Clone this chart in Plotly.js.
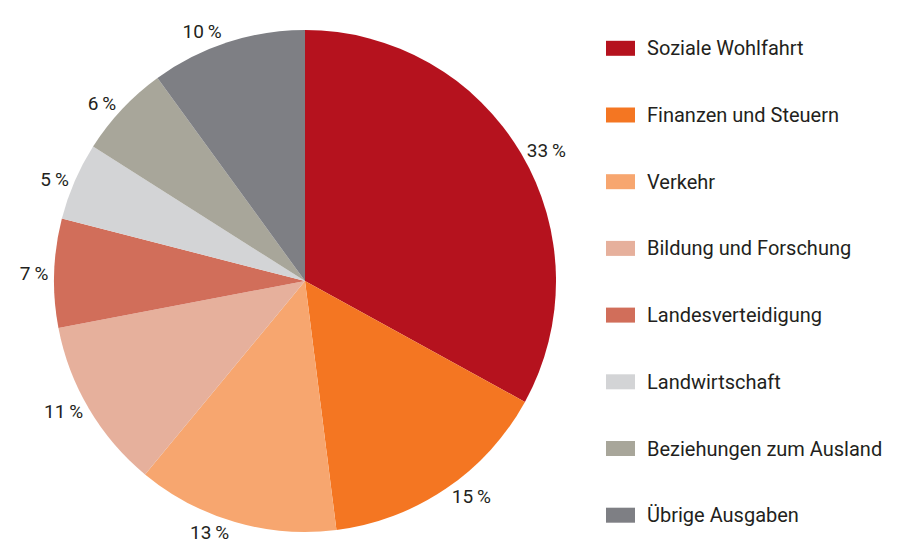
<!DOCTYPE html>
<html>
<head>
<meta charset="utf-8">
<script src="https://cdn.plot.ly/plotly-3.0.1.min.js"></script>
<style>html,body{margin:0;padding:0;background:#fff;}#chart{width:904px;height:555px;}</style>
</head>
<body>
<div id="chart"></div>
<script>
const categories = ["Soziale Wohlfahrt", "Finanzen und Steuern", "Verkehr", "Bildung und Forschung", "Landesverteidigung", "Landwirtschaft", "Beziehungen zum Ausland", "Übrige Ausgaben"];
const shares = [33, 15, 13, 11, 7, 5, 6, 10];
const colors = ["#B5121E", "#F47622", "#F7A66F", "#E6B09C", "#D16E5A", "#D3D4D6", "#A8A69A", "#7E7F84"];

const W = 904, H = 555;
const fontFam = "Roboto, 'DejaVu Sans', sans-serif";
const textColor = "#231F20";

const trace = {
  type: "pie",
  labels: categories,
  values: shares,
  sort: false,
  direction: "clockwise",
  rotation: 0,
  marker: {colors: colors, line: {width: 0}},
  texttemplate: "%{value}\u2009%",
  textposition: "outside",
  textfont: {family: fontFam, size: 19, color: textColor},
  outsidetextfont: {family: fontFam, size: 19, color: textColor},
  hoverinfo: "label+value",
  showlegend: false,
  domain: {x: [54 / W, 556 / W], y: [1 - 532 / H, 1 - 30 / H]}
};

const shapes = [];
const annotations = [];
const legX0 = 606, legX1 = 635, legTextX = 645, legY0 = 48.3, legStep = 66.7;
categories.forEach((c, i) => {
  const cy = legY0 + i * legStep;
  shapes.push({
    type: "rect", xref: "paper", yref: "paper",
    x0: legX0 / W, x1: legX1 / W,
    y0: 1 - (cy + 7.5) / H, y1: 1 - (cy - 7.5) / H,
    fillcolor: colors[i], line: {width: 0}
  });
  annotations.push({
    xref: "paper", yref: "paper",
    x: legTextX / W, y: 1 - cy / H,
    xanchor: "left", yanchor: "middle",
    text: c, showarrow: false,
    font: {family: fontFam, size: 20, color: textColor}
  });
});

const layout = {
  width: W, height: H,
  margin: {l: 0, r: 0, t: 0, b: 0},
  paper_bgcolor: "#ffffff",
  plot_bgcolor: "#ffffff",
  showlegend: false,
  shapes: shapes,
  annotations: annotations
};

Plotly.newPlot("chart", [trace], layout, {displayModeBar: false, staticPlot: true});
</script>
</body>
</html>
